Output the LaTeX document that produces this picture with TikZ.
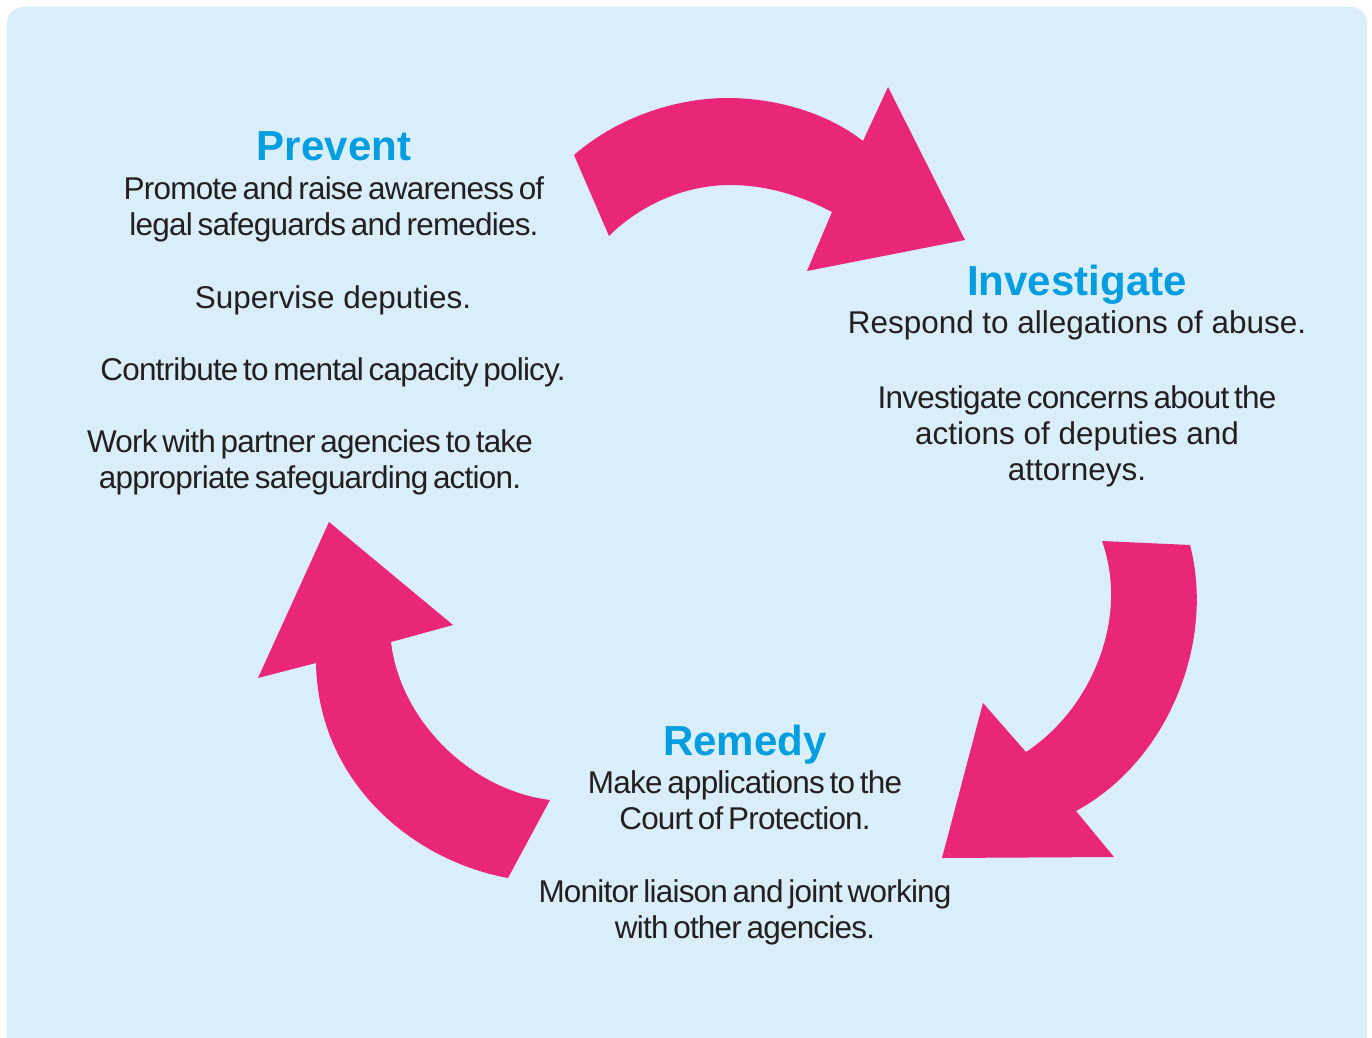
\documentclass[tikz,border=0pt]{standalone}
\usepackage{fontspec}
\setmainfont{Liberation Sans}
\newfontfamily\tightfont[LetterSpace=-2.5,WordSpace=0.6]{Liberation Sans}

\definecolor{bgblue}{RGB}{218,238,249}
\definecolor{arrowpink}{RGB}{233,38,119}
\definecolor{headblue}{RGB}{0,158,224}
\definecolor{bodytext}{RGB}{35,31,32}

\tikzset{every picture/.style={line width=0.75pt},
  headline/.style={anchor=base, inner sep=0pt, text=headblue, font=\fontsize{31.5}{36}\selectfont\bfseries},
  bodyline/.style={anchor=base, inner sep=0pt, align=center, text=bodytext, font=\fontsize{23.6}{27}\selectfont},
  tightline/.style={bodyline, font=\tightfont\fontsize{23.6}{27}\selectfont},
  cyclearrow/.style={fill=arrowpink, draw=none}}

\begin{document}
\begin{tikzpicture}[x=0.75pt,y=0.75pt,yscale=-1,xscale=1]
		\useasboundingbox (0,0) rectangle (1372,1038);

		%Shape: Rounded Rect (background)
		\begin{scope}
		\clip (0,0) rectangle (1372,1038);
		\fill [bgblue, rounded corners=12] (7,7) rectangle (1367,1070);
		\end{scope}

		%Shape: Curved Arrow (top)
		\fill [cyclearrow] (574,155) .. controls (620,115) and (680,98) .. (727,98) .. controls (780,98) and (830,115) .. (863,141) -- (888,87) -- (965,240) -- (807,271) -- (832,212) .. controls (800,195) and (765,185) .. (730,185) .. controls (685,185) and (640,205) .. (609,236) -- cycle ;
		%Shape: Curved Arrow (right)
		\fill [cyclearrow] (1102,541) -- (1190,545) .. controls (1215,640) and (1170,760) .. (1076,811) -- (1114,857) -- (942,858) -- (983,703) -- (1026,752) .. controls (1090,710) and (1130,620) .. (1102,541) -- cycle ;
		%Shape: Curved Arrow (left)
		\fill [cyclearrow] (508,878) -- (550,800) .. controls (470,790) and (400,720) .. (391,642) -- (453,625) -- (329,522) -- (258,678) -- (316,663) .. controls (318,780) and (410,860) .. (508,878) -- cycle ;

		% Text Node (multi-line nodes sit on their last baseline)
		\node (prevent) [headline] at (334,161) {Prevent};
		% Text Node
		\node (promote) [tightline] at (334,236) {Promote and raise awareness of\\legal safeguards and remedies.};
		% Text Node
		\node (supervise) [bodyline] at (333,308) {Supervise deputies.};
		% Text Node
		\node (contribute) [tightline] at (333,380) {Contribute to mental capacity policy.};
		% Text Node
		\node (partner) [tightline] at (310,488) {Work with partner agencies to take\\appropriate safeguarding action.};

		% Text Node
		\node (investigate) [headline] at (1077,296) {Investigate};
		% Text Node
		\node (respond) [bodyline] at (1077,333) {Respond to allegations of abuse.};
		% Text Node
		\node (concerns) [bodyline] at (1077,480) {{\tightfont Investigate concerns about the}\\actions of deputies and\\attorneys.};

		% Text Node
		\node (remedy) [headline] at (745,755) {Remedy};
		% Text Node
		\node (court) [tightline] at (745,829) {Make applications to the\\Court of Protection.};
		% Text Node
		\node (monitor) [tightline] at (745,938) {Monitor liaison and joint working\\with other agencies.};

\end{tikzpicture}
\end{document}
